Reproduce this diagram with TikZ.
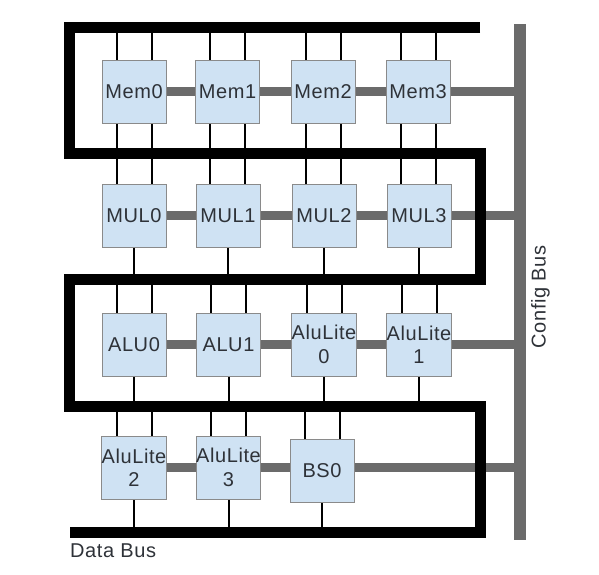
\documentclass[tikz,border=0pt]{standalone}
\usepackage{fontspec}
\newfontfamily\lbl[LetterSpace=3]{Liberation Sans}
\usetikzlibrary{backgrounds}
\definecolor{boxfill}{HTML}{CFE2F3}
\definecolor{boxline}{HTML}{8A8A8A}
\definecolor{linkgray}{HTML}{6B6B6B}
\definecolor{txt}{HTML}{2E3238}
\tikzset{
  unit/.style={draw=boxline, line width=1pt, fill=boxfill, minimum width=64pt, minimum height=63pt,
    inner sep=0pt, align=center, font=\lbl\fontsize{20}{23.5}\selectfont, text=txt},
  wire/.style={line width=2pt, black},
  databus/.style={line width=11pt, black, line join=miter},
  link/.style={line width=9pt, linkgray},
  cfgbus/.style={line width=12pt, linkgray},
  lab/.style={font=\lbl\fontsize{20}{23.5}\selectfont, text=txt, inner sep=0pt}
}
\begin{document}
\begin{tikzpicture}[x=1pt,y=-1pt]
\useasboundingbox (0,0) rectangle (599,574);
% nodes
\node[unit] (m0) at (134,91.5) {Mem0};
\node[unit] (m1) at (227.5,91.5) {Mem1};
\node[unit] (m2) at (323,91.5) {Mem2};
\node[unit] (m3) at (418,91.5) {Mem3};
\node[unit] (u0) at (134,215.5) {MUL0};
\node[unit] (u1) at (228,215.5) {MUL1};
\node[unit] (u2) at (324,215.5) {MUL2};
\node[unit] (u3) at (419,215.5) {MUL3};
\node[unit] (a0) at (134,344.5) {ALU0};
\node[unit] (a1) at (228.5,344.5) {ALU1};
\node[unit] (a2) at (324,344.5) {AluLite\\0};
\node[unit] (a3) at (419,344.5) {AluLite\\1};
\node[unit] (b0) at (134,467.5) {AluLite\\2};
\node[unit] (b1) at (228.5,467.5) {AluLite\\3};
\node[unit] (b2) at (322,470.5) {BS0};
\node[lab, rotate=90] (cfglab) at (540.5,297) {Config Bus};
\node[lab, anchor=base west] (datalab) at (70,557) {Data Bus};
% bus coordinates
\coordinate (cbt) at (519.5,24);
\coordinate (cbb) at (519.5,540);
\coordinate (p1) at (480,27.5);
\coordinate (p2) at (69.5,27.5);
\coordinate (p3) at (69.5,153);
\coordinate (p4) at (480,153);
\coordinate (p5) at (480,279);
\coordinate (p6) at (69.5,279);
\coordinate (p7) at (69.5,406);
\coordinate (p8) at (480,406);
\coordinate (p9) at (480,532);
\coordinate (p10) at (70,532);
\begin{scope}[on background layer]
  % config links
  \draw[link] (m0) -- (m1) -- (m2) -- (m3) -- (m3 -| cbt);
  \draw[link] (u0) -- (u1) -- (u2) -- (u3) -- (u3 -| cbt);
  \draw[link] (a0) -- (a1) -- (a2) -- (a3) -- (a3 -| cbt);
  \draw[link] (b0) -- (b1) -- (b1 -| cbt);
  \draw[cfgbus] (cbt) -- (cbb);
  % data bus
  \draw[databus] (p1) -- (p2) -- (p3) -- (p4) -- (p5) -- (p6) -- (p7) -- (p8) -- (p9) -- (p10);
  % wires row 1
  \foreach \n in {m0,m1,m2,m3} {
    \draw[wire] ([xshift=-17.5pt]\n.north) -- ([xshift=-17.5pt]\n.north |- p1);
    \draw[wire] ([xshift=17.5pt]\n.north) -- ([xshift=17.5pt]\n.north |- p1);
  }
  \foreach \a/\b in {m0/u0,m1/u1,m2/u2,m3/u3} {
    \draw[wire] ([xshift=-17.5pt]\a.south) -- ([xshift=-17.5pt]\a.south |- \b.north);
    \draw[wire] ([xshift=17.5pt]\a.south) -- ([xshift=17.5pt]\a.south |- \b.north);
  }
  \foreach \n in {u0,u1,u2,u3} {
    \draw[wire] (\n.south) -- (\n.south |- p5);
  }
  \foreach \n in {a0,a1,a2,a3} {
    \draw[wire] ([xshift=-17.5pt]\n.north) -- ([xshift=-17.5pt]\n.north |- p5);
    \draw[wire] ([xshift=17.5pt]\n.north) -- ([xshift=17.5pt]\n.north |- p5);
    \draw[wire] (\n.south) -- (\n.south |- p7);
  }
  \foreach \n in {b0,b1,b2} {
    \draw[wire] ([xshift=-17.5pt]\n.north) -- ([xshift=-17.5pt]\n.north |- p7);
    \draw[wire] ([xshift=17.5pt]\n.north) -- ([xshift=17.5pt]\n.north |- p7);
    \draw[wire] (\n.south) -- (\n.south |- p9);
  }
\end{scope}
\end{tikzpicture}
\end{document}
